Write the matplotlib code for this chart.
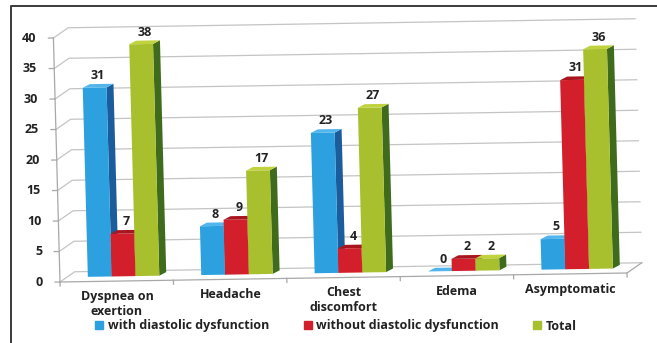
import numpy as np
import matplotlib.pyplot as plt
from matplotlib.patches import Polygon
from matplotlib.lines import Line2D
from matplotlib.transforms import Affine2D

plt.rcParams['font.family'] = ['Open Sans', 'DejaVu Sans']

categories = ['Dyspnea on\nexertion', 'Headache', 'Chest\ndiscomfort', 'Edema', 'Asymptomatic']
with_dd = [31, 8, 23, 0, 5]
without_dd = [7, 9, 4, 2, 31]
total = [38, 17, 27, 2, 36]
series = ['with diastolic dysfunction', 'without diastolic dysfunction', 'Total']
yticks = np.arange(0, 45, 5)

# front, side, top shades per series
front = ['#2da1df', '#d21f2b', '#a8c02e']
side = ['#1b5c9d', '#8c1119', '#3f6b1d']
top = ['#52b6ec', '#a9151f', '#c0d23e']

W, H = 657, 343
sx, sy = 113.4, 6.1          # pixels per category / per value unit
ox, oy = 60, H - 282         # floor front-left corner in pixels

fig = plt.figure(figsize=(W / 100, H / 100), dpi=100)
ax = fig.add_axes([0, 0, 1, 1])
ax.set_xlim(-ox / sx, (W - ox) / sx)
ax.set_ylim(-oy / sy, (H - oy) / sy)
ax.axis('off')

# slight tilt and lean of the whole 3d scene
ky = (9 / 567) * sx / sy
kx = -0.027 * sy / sx
tr = Affine2D(np.array([[1, kx, 0], [ky, 1, 0], [0, 0, 1]])) + ax.transData

wdx, wdy = 15 / sx, 10 / sy      # wall depth
fdx, fdy = 7 / sx, 4.7 / sy      # bar front offset from floor edge
bdx, bdy = 7 / sx, 3.5 / sy      # bar depth
n = len(categories)
grid_c = '#c4c4c4'
axis_c = '#a8a8a8'
txt_c = '#222222'
fs = 9

# walls: gridlines on left and back wall
for v in yticks:
    ax.plot([0, wdx, n + wdx], [v, v + wdy, v + wdy], color=grid_c, lw=0.9,
            transform=tr, zorder=1)
    ax.plot([-5 / sx, 0], [v, v], color=axis_c, lw=0.9, transform=tr, zorder=1)
    ax.text(-17 / sx, v, str(v), ha='right', va='center', fontsize=fs,
            fontweight='bold', color=txt_c, transform=tr)
ax.plot([0, 0], [0, yticks[-1]], color=axis_c, lw=0.9, transform=tr, zorder=1)

# floor
ax.plot([0, n, n + wdx], [0, 0, wdy], color=axis_c, lw=0.9, transform=tr, zorder=1)
for k in range(n + 1):
    ax.plot([k, k], [0, -4 / sy], color=axis_c, lw=0.9, transform=tr, zorder=1)

bw = 0.21
for i in range(n):
    vals = [with_dd[i], without_dd[i], total[i]]
    for j, h in enumerate(vals):
        x0 = i + 0.5 - 1.5 * bw + j * bw + fdx
        x1 = x0 + bw
        v0 = fdy
        v1 = v0 + h
        ax.add_patch(Polygon([(x1, v0), (x1 + bdx, v0 + bdy), (x1 + bdx, v1 + bdy), (x1, v1)],
                             closed=True, fc=side[j], ec='none', transform=tr, zorder=2))
        ax.bar(x0, h, bw, bottom=v0, align='edge', color=front[j], lw=0,
               transform=tr, zorder=2)
        ax.add_patch(Polygon([(x0, v1), (x1, v1), (x1 + bdx, v1 + bdy), (x0 + bdx, v1 + bdy)],
                             closed=True, fc=top[j], ec='none', transform=tr, zorder=2))
        ax.text(x0 + bw / 2 + bdx / 2, v1 + bdy + 2 / sy, str(h), ha='center', va='bottom',
                fontsize=fs, fontweight='bold', color=txt_c, transform=tr, zorder=3)

for i, name in enumerate(categories):
    ax.text(i + 0.5, -9 / sy, name, ha='center', va='top', fontsize=fs,
            fontweight='bold', color=txt_c, linespacing=1.15, transform=tr)

handles = [Line2D([], [], ls='none', marker='s', ms=6, mfc=c, mec=c) for c in front]
fig.legend(handles, series, loc='center', bbox_to_anchor=(336 / W, 17 / H), ncol=3,
           frameon=False, handlelength=0.6, handletextpad=0.35, columnspacing=2.8,
           prop={'size': fs, 'weight': 'bold'}, labelcolor=txt_c)

# outer frame on the left and top
fig.add_artist(Line2D([11 / W, 11 / W, 1], [0, 1 - 6 / H, 1 - 6 / H],
                      transform=fig.transFigure, color='#3a3a3a', lw=1.4))

fig.savefig('out.png', dpi=100)
